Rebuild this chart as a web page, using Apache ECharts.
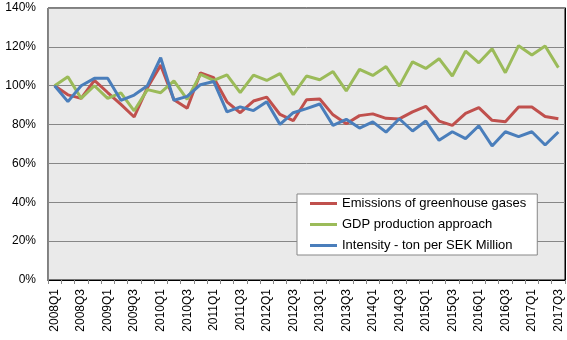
<!DOCTYPE html>
<html>
<head>
<meta charset="utf-8">
<script src="https://cdn.jsdelivr.net/npm/echarts@6/dist/echarts.min.js"></script>
<style>html,body{margin:0;padding:0;background:#fff}#c{width:567px;height:340px}</style>
</head>
<body>
<div id="c"></div>
<script>
var categories = [];
(function(){ for (var y = 2008; y <= 2017; y++) for (var q = 1; q <= 4; q++) { if (y === 2017 && q === 4) break; categories.push(y + 'Q' + q); } })();

var emissions = [100, 95.3, 93.5, 102.8, 96.5, 90.4, 83.9, 99, 110.6, 92.8,
  88.4, 106.6, 104.1, 91.7, 86.1, 92.1, 94.1, 85.2, 82, 92.8,
  93.2, 85, 80.4, 84.6, 85.5, 83.2, 82.9, 86.5, 89.4, 81.8,
  79.6, 85.8, 88.7, 82.2, 81.5, 89, 89, 84.2, 83];
var gdp = [100, 104.6, 93.5, 100, 93.5, 96.3, 87.1, 98, 96.4, 102.5,
  93, 105.8, 102.7, 105.6, 96.4, 105.5, 102.7, 106.2, 95.4, 105,
  103.1, 107.3, 97.3, 108.4, 105.3, 109.9, 99.8, 112.3, 108.9, 113.9,
  105, 117.8, 111.8, 119, 106.7, 120.6, 115.8, 120.4, 109.3];
var intensity = [100, 91.8, 100, 103.8, 103.8, 92.5, 95.2, 100, 114.4, 92.5,
  94.5, 100.5, 102.2, 86.5, 89.1, 87.2, 91.8, 80.1, 86.1, 88.2,
  90.6, 79.6, 82.7, 78.2, 81.4, 76.1, 83, 76.7, 81.8, 71.9,
  76.3, 72.8, 79.4, 69, 76.3, 73.8, 76.3, 69.5, 76.2];
var seriesNames = ['Emissions of greenhouse gases', 'GDP production approach', 'Intensity - ton per SEK Million'];
var yTicks = [0, 20, 40, 60, 80, 100, 120, 140];

var chart = echarts.init(document.getElementById('c'), null, {renderer: 'canvas'});
var font = 'Liberation Sans, Arial, sans-serif';
var gridColor = '#878787';
chart.setOption({
  animation: false,
  backgroundColor: '#fff',
  color: ['#C0504D', '#9BBB59', '#4A7EBB'],
  grid: {left: 48, right: 2, top: 8, bottom: 60, show: true, backgroundColor: '#EAEAEA', borderColor: '#000', borderWidth: 1},
  legend: {
    orient: 'vertical', left: 297, top: 194,
    backgroundColor: '#fff', borderColor: '#878787', borderWidth: 1,
    padding: [3, 11, 3, 13], itemGap: 8,
    icon: 'rect', itemWidth: 27, itemHeight: 3,
    textStyle: {fontFamily: font, fontSize: 13, color: '#000'},
    data: seriesNames
  },
  xAxis: [{
    type: 'category', data: categories, boundaryGap: true,
    axisLine: {lineStyle: {color: gridColor, width: 1}},
    axisTick: {show: true, interval: 0, length: 4, lineStyle: {color: gridColor}},
    axisLabel: {interval: 1, rotate: 90, margin: 9, fontFamily: font, fontSize: 12, color: '#000'},
    splitLine: {show: false}
  }, {
    type: 'category', data: categories, position: 'top', boundaryGap: true,
    axisLine: {lineStyle: {color: '#000', width: 1}},
    axisTick: {show: false}, axisLabel: {show: false}, splitLine: {show: false}
  }],
  yAxis: [{
    type: 'value', min: yTicks[0], max: yTicks[yTicks.length - 1], interval: 20,
    axisLine: {show: true, lineStyle: {color: gridColor}},
    axisTick: {show: false},
    axisLabel: {formatter: '{value}%', margin: 12, fontFamily: font, fontSize: 12, color: '#000'},
    splitLine: {show: true, lineStyle: {color: gridColor, width: 1}}
  }, {
    type: 'value', position: 'right', min: yTicks[0], max: yTicks[yTicks.length - 1], interval: 20,
    axisLine: {show: true, lineStyle: {color: '#000'}},
    axisTick: {show: false}, axisLabel: {show: false}, splitLine: {show: false}
  }],
  series: [
    {name: seriesNames[0], type: 'line', data: emissions, symbol: 'none', lineStyle: {width: 3}},
    {name: seriesNames[1], type: 'line', data: gdp, symbol: 'none', lineStyle: {width: 3}},
    {name: seriesNames[2], type: 'line', data: intensity, symbol: 'none', lineStyle: {width: 3}}
  ]
});
</script>
</body>
</html>
